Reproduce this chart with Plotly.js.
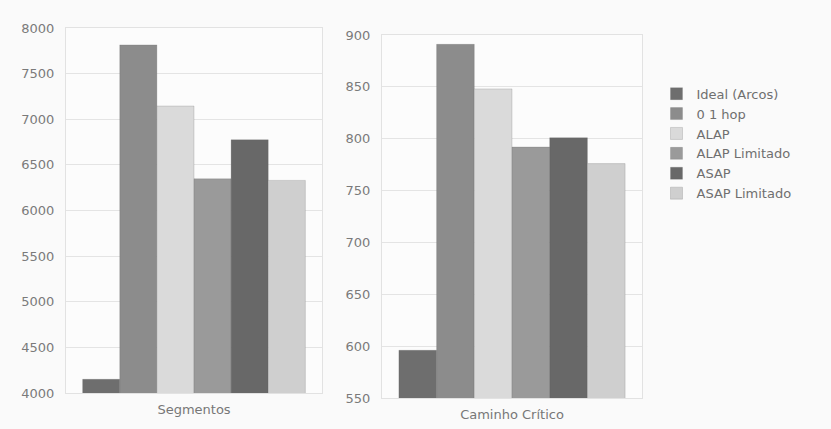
<!DOCTYPE html>
<html>
<head>
<meta charset="utf-8">
<script src="https://cdn.plot.ly/plotly-3.0.1.min.js"></script>
<style>html,body{margin:0;padding:0;background:#fafafa;}</style>
</head>
<body>
<div id="chart" style="width:831px;height:429px;"></div>
<script>
// Data
const seriesNames = ["Ideal (Arcos)", "0 1 hop", "ALAP", "ALAP Limitado", "ASAP", "ASAP Limitado"];
const seriesColors = ["#6e6e6e", "#8c8c8c", "#dadada", "#9a9a9a", "#686868", "#cfcfcf"];
const leftCategory = ["Segmentos"];
const rightCategory = ["Caminho Crítico"];
const segmentosValues = [4150, 7815, 7145, 6348, 6775, 6330];
const caminhoValues = [596, 891, 848, 792, 801, 776];
const leftTicks = [4000, 4500, 5000, 5500, 6000, 6500, 7000, 7500, 8000];
const rightTicks = [550, 600, 650, 700, 750, 800, 850, 900];

const traces = [];
seriesNames.forEach((name, i) => {
  traces.push({
    type: "bar", name: name, x: leftCategory, y: [segmentosValues[i]],
    xaxis: "x", yaxis: "y", legendgroup: name,
    marker: {color: seriesColors[i], line: {color: "rgba(90,90,90,0.35)", width: 0.6}}
  });
});
seriesNames.forEach((name, i) => {
  traces.push({
    type: "bar", name: name, x: rightCategory, y: [caminhoValues[i]],
    xaxis: "x2", yaxis: "y2", legendgroup: name, showlegend: false,
    marker: {color: seriesColors[i], line: {color: "rgba(90,90,90,0.35)", width: 0.6}}
  });
});

const tickFont = {family: "DejaVu Sans", size: 13, color: "#7a7a7a"};
const axisCommon = {
  showline: true, mirror: true, linecolor: "#e2e2e2", linewidth: 1,
  gridcolor: "#e4e4e4", zeroline: false, ticks: "", tickfont: tickFont
};

const layout = {
  width: 831, height: 429,
  margin: {l: 0, r: 0, t: 0, b: 0},
  paper_bgcolor: "#fafafa", plot_bgcolor: "#fcfcfc",
  barmode: "group", bargap: 0.13, bargroupgap: 0,
  showlegend: true,
  legend: {
    x: 0.79, y: 0.665, xanchor: "left", yanchor: "middle",
    font: {family: "DejaVu Sans", size: 13, color: "#6f6f6f"},
    bgcolor: "rgba(0,0,0,0)", tracegroupgap: 0
  },
  xaxis: Object.assign({}, axisCommon, {domain: [66/831, 322/831], anchor: "y", showgrid: false,
    tickfont: {family: "DejaVu Sans", size: 13, color: "#777"}, ticklabelstandoff: 4}),
  yaxis: Object.assign({}, axisCommon, {domain: [1 - 393/429, 1 - 28/429], anchor: "x",
    range: [4000, 8000], tickvals: leftTicks, ticktext: leftTicks.map(String), ticklabelstandoff: 8}),
  xaxis2: Object.assign({}, axisCommon, {domain: [382/831, 642/831], anchor: "y2", showgrid: false,
    tickfont: {family: "DejaVu Sans", size: 13, color: "#777"}, ticklabelstandoff: 4}),
  yaxis2: Object.assign({}, axisCommon, {domain: [1 - 398/429, 1 - 35/429], anchor: "x2",
    range: [550, 900], tickvals: rightTicks, ticktext: rightTicks.map(String), ticklabelstandoff: 8})
};

Plotly.newPlot("chart", traces, layout, {displayModeBar: false, staticPlot: true});
</script>
</body>
</html>
